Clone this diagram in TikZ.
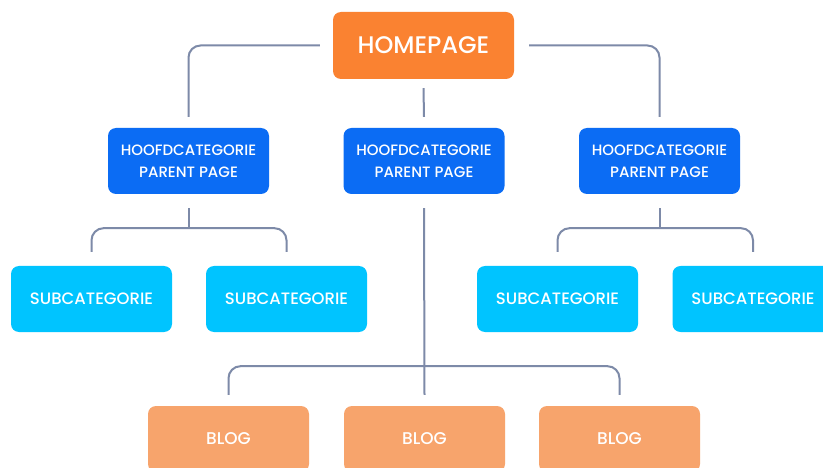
\documentclass[tikz,border=0pt]{standalone}
\usepackage{fontspec}
\setmainfont{Poppins Medium}
\usepackage{tikz}

\definecolor{homeorange}{HTML}{FA8231}
\definecolor{parentblue}{HTML}{0B6CF4}
\definecolor{subcyan}{HTML}{00C4FF}
\definecolor{blogorange}{HTML}{F7A46C}
\definecolor{linegray}{HTML}{7D8AA8}

\tikzset{
  box/.style={rounded corners=8pt, text=white, align=center, inner sep=0pt},
  homebox/.style={box, fill=homeorange, minimum width=181pt, minimum height=67pt,
    font=\fontsize{24}{30}\selectfont},
  parentbox/.style={box, fill=parentblue, minimum width=161pt, minimum height=66pt,
    font=\fontsize{15}{22}\selectfont},
  subbox/.style={box, fill=subcyan, minimum width=161pt, minimum height=66pt,
    font=\fontsize{16.5}{20}\selectfont},
  blogbox/.style={box, fill=blogorange, minimum width=161pt, minimum height=66pt,
    font=\fontsize{17}{20}\selectfont},
  link/.style={draw=linegray, line width=2pt, rounded corners=12pt}
}

\begin{document}
\begin{tikzpicture}[x=1pt,y=-1pt]
\clip (0,0) rectangle (823,468);
\fill[white] (0,0) rectangle (823,468);

\node[homebox] (home) at (423.5,45.5) {HOMEPAGE};

\node[parentbox] (h1) at (188.5,161) {HOOFDCATEGORIE\\PARENT PAGE};
\node[parentbox] (h2) at (424,161) {HOOFDCATEGORIE\\PARENT PAGE};
\node[parentbox] (h3) at (659.5,161) {HOOFDCATEGORIE\\PARENT PAGE};

\node[subbox] (s1) at (91.5,299) {SUBCATEGORIE};
\node[subbox] (s2) at (286.5,299) {SUBCATEGORIE};
\node[subbox] (s3) at (557.5,299) {SUBCATEGORIE};
\node[subbox] (s4) at (753,299) {SUBCATEGORIE};

\node[blogbox] (b1) at (228.5,439) {BLOG};
\node[blogbox] (b2) at (424.5,439) {BLOG};
\node[blogbox] (b3) at (619.5,439) {BLOG};

% homepage to parents
\draw[link] ([xshift=-13pt]home.west) -| ([yshift=11pt]h1.north);
\draw[link] ([xshift=15pt]home.east) -| ([yshift=11pt]h3.north);
\draw[link] ([yshift=-9pt]home.south) -- ([yshift=11pt]h2.north);

% parents to subcategories
\draw[link] ([yshift=-14pt]h1.south) -- ([yshift=-34pt]h1.south);
\draw[link] ([yshift=14pt]s1.north) |- ([yshift=-34pt]h1.south) -| ([yshift=14pt]s2.north);
\draw[link] ([yshift=-14pt]h3.south) -- ([yshift=-34pt]h3.south);
\draw[link] ([yshift=14pt]s3.north) |- ([yshift=-34pt]h3.south) -| ([yshift=14pt]s4.north);

% middle parent to blogs
\draw[link] ([yshift=-14pt]h2.south) -- ([yshift=11pt]b2.north);
\draw[link] ([yshift=11pt]b1.north) |- ([yshift=-172pt]h2.south) -| ([yshift=11pt]b3.north);

\end{tikzpicture}
\end{document}
